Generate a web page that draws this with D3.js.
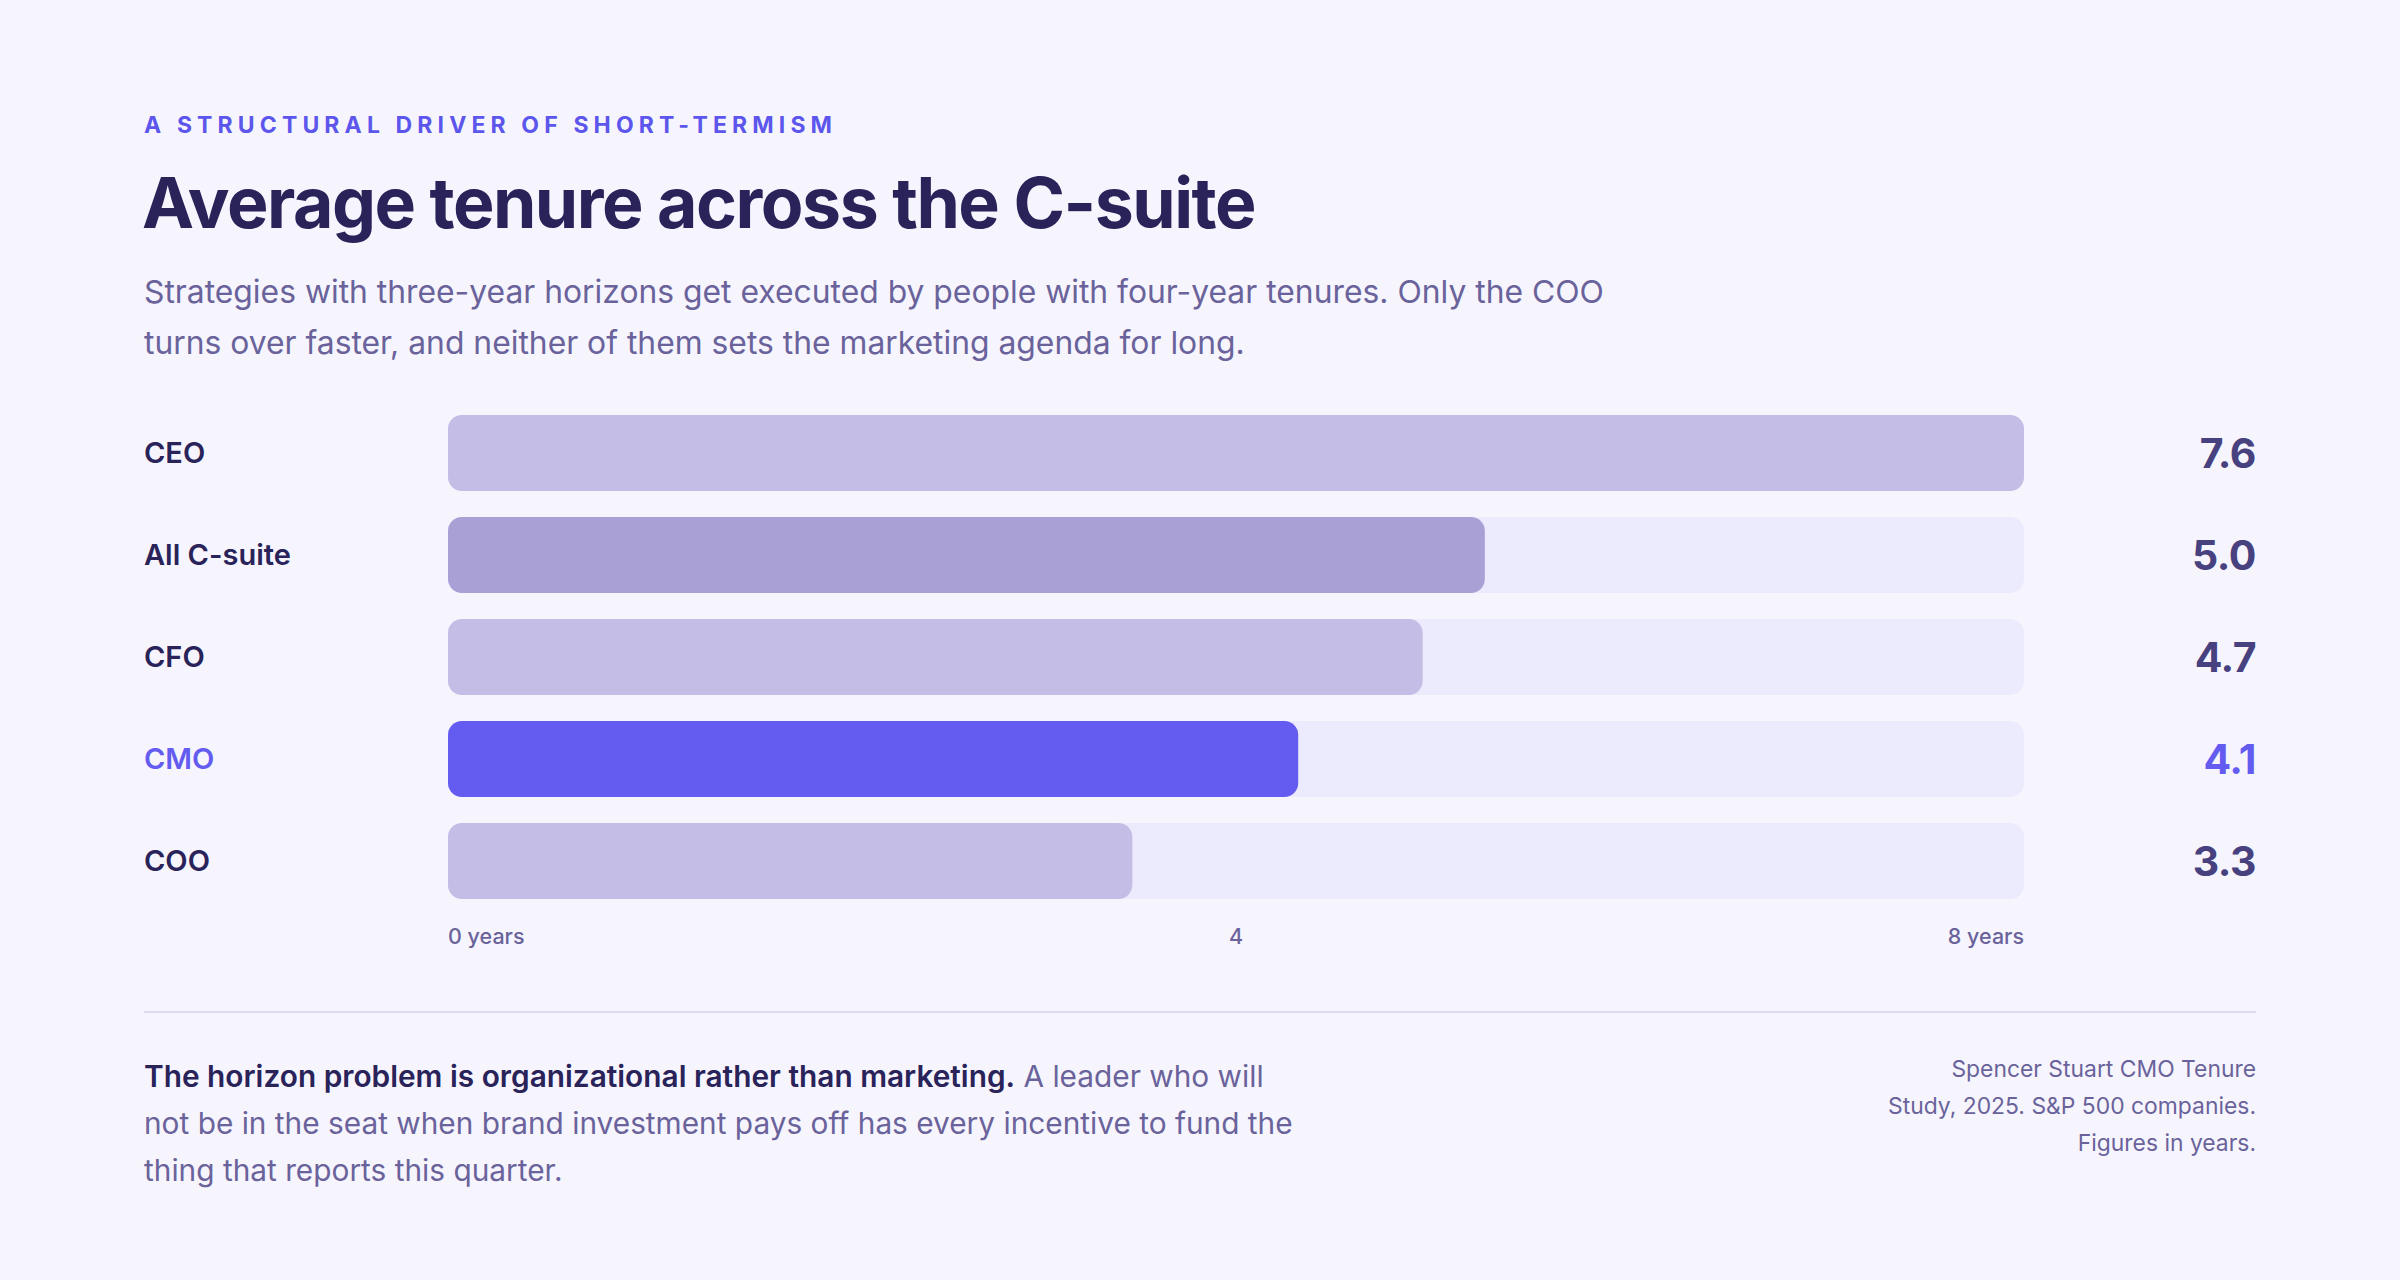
<!DOCTYPE html>
<html>
<head>
<meta charset="utf-8">
<script src="https://cdn.jsdelivr.net/npm/d3@7"></script>
<style>
  html, body { margin: 0; padding: 0; background: #f6f5fe; }
  svg { display: block; font-family: Inter, "Noto Sans", sans-serif; }
</style>
</head>
<body>
<svg id="chart" width="2400" height="1280"></svg>
<script>
// ---- data ----
const categories = ["CEO", "All C-suite", "CFO", "CMO", "COO"];
const tenureYears = [7.6, 5.0, 4.7, 4.1, 3.3];
const tickValues = [0, 4, 8];
const tickLabels = ["0 years", "4", "8 years"];

const eyebrow = "A STRUCTURAL DRIVER OF SHORT-TERMISM";
const title = "Average tenure across the C-suite";
const subtitleLines = [
  "Strategies with three-year horizons get executed by people with four-year tenures. Only the COO",
  "turns over faster, and neither of them sets the marketing agenda for long."
];
const footLead = "The horizon problem is organizational rather than marketing.";
const footLines = [
  " A leader who will",
  "not be in the seat when brand investment pays off has every incentive to fund the",
  "thing that reports this quarter."
];
const sourceLines = [
  "Spencer Stuart CMO Tenure",
  "Study, 2025. S&P 500 companies.",
  "Figures in years."
];

const HIGHLIGHT = "CMO";
const AVERAGE = "All C-suite";

// ---- layout ----
const W = 2400, H = 1280;
const LEFT = 144, RIGHT = 2256;
const BAR_X0 = 448, BAR_X1 = 2024;

const svg = d3.select("#chart");
svg.append("rect").attr("width", W).attr("height", H).attr("fill", "#f6f5fe");

// shrink/grow a text's font size so it spans a given width
function fitWidth(sel, target) {
  const fs = parseFloat(sel.attr("font-size"));
  const w = sel.node().getComputedTextLength();
  sel.attr("font-size", (fs * target / w).toFixed(2));
}

// header
const eb = svg.append("text")
  .attr("x", LEFT).attr("y", 133)
  .attr("font-size", 23).attr("font-weight", 700)
  .attr("fill", "#5d56ec")
  .text(eyebrow);
// spread letters out to the reference width
(function () {
  const n = eyebrow.length;
  const w = eb.node().getComputedTextLength();
  eb.attr("letter-spacing", ((688 - w) / (n - 1)).toFixed(2));
})();

const t = svg.append("text")
  .attr("x", LEFT - 2).attr("y", 228)
  .attr("font-size", 76).attr("font-weight", 700)
  .attr("letter-spacing", -1.5)
  .attr("fill", "#29235a")
  .text(title);
fitWidth(t, 1117);

const sub = svg.selectAll("text.sub")
  .data(subtitleLines)
  .join("text")
  .attr("class", "sub")
  .attr("x", LEFT).attr("y", (d, i) => 303 + i * 51)
  .attr("font-size", 30)
  .attr("fill", "#6a639b")
  .text(d => d);
fitWidth(d3.select(sub.nodes()[0]), 1460);
d3.select(sub.nodes()[1]).attr("font-size", d3.select(sub.nodes()[0]).attr("font-size"));

// ---- bars ----
const x = d3.scaleLinear().domain([0, d3.max(tenureYears)]).range([BAR_X0, BAR_X1]);
const xTicks = d3.scaleLinear().domain([0, 8]).range([BAR_X0, BAR_X1]);
const y = d3.scaleBand().domain(categories).range([415, 899])
  .paddingInner(26 / 102).paddingOuter(0);

const rows = categories.map((c, i) => ({ name: c, value: tenureYears[i] }));

const barColor = d => d.name === HIGHLIGHT ? "#645bf0"
  : d.name === AVERAGE ? "#a9a0d6" : "#c4bde6";

const g = svg.append("g");

g.selectAll("rect.track")
  .data(rows)
  .join("rect")
  .attr("class", "track")
  .attr("x", x(0)).attr("y", d => y(d.name))
  .attr("width", x.range()[1] - x(0))
  .attr("height", y.bandwidth())
  .attr("rx", 14)
  .attr("fill", "#eceafd");

g.selectAll("rect.bar")
  .data(rows)
  .join("rect")
  .attr("class", "bar")
  .attr("x", x(0)).attr("y", d => y(d.name))
  .attr("width", d => x(d.value) - x(0))
  .attr("height", y.bandwidth())
  .attr("rx", 14)
  .attr("fill", barColor);

g.selectAll("text.cat")
  .data(rows)
  .join("text")
  .attr("class", "cat")
  .attr("x", LEFT).attr("y", d => y(d.name) + y.bandwidth() / 2)
  .attr("dy", "0.36em")
  .attr("font-size", 29).attr("font-weight", 600)
  .attr("fill", d => d.name === HIGHLIGHT ? "#645bf0" : "#29235a")
  .text(d => d.name);

g.selectAll("text.val")
  .data(rows)
  .join("text")
  .attr("class", "val")
  .attr("x", RIGHT).attr("y", d => y(d.name) + y.bandwidth() / 2)
  .attr("dy", "0.36em")
  .attr("text-anchor", "end")
  .attr("font-size", 41).attr("font-weight", 700)
  .attr("letter-spacing", -0.5)
  .attr("fill", d => d.name === HIGHLIGHT ? "#645bf0" : "#48417f")
  .text(d => d3.format(".1f")(d.value));

// axis labels
g.selectAll("text.tick")
  .data(tickValues)
  .join("text")
  .attr("class", "tick")
  .attr("x", d => xTicks(d)).attr("y", 944)
  .attr("text-anchor", (d, i) => i === 0 ? "start" : i === tickValues.length - 1 ? "end" : "middle")
  .attr("font-size", 21.5).attr("font-weight", 500)
  .attr("fill", "#6a639b")
  .text((d, i) => tickLabels[i]);

// divider
svg.append("line")
  .attr("x1", LEFT).attr("x2", RIGHT)
  .attr("y1", 1012).attr("y2", 1012)
  .attr("stroke", "#dddbef").attr("stroke-width", 2);

// ---- footer ----
const foot = svg.append("g");
const FOOT_FS = 27;
const f0 = foot.append("text")
  .attr("x", LEFT).attr("y", 1087)
  .attr("font-size", FOOT_FS)
  .attr("fill", "#6a639b");
f0.append("tspan").attr("font-weight", 600).attr("fill", "#29235a").text(footLead);
f0.append("tspan").text(footLines[0]);

foot.selectAll("text.fl")
  .data(footLines.slice(1))
  .join("text")
  .attr("class", "fl")
  .attr("x", LEFT).attr("y", (d, i) => 1134 + i * 47)
  .attr("font-size", FOOT_FS)
  .attr("fill", "#6a639b")
  .text(d => d);

const fl1 = d3.select(foot.selectAll("text.fl").nodes()[0]);
fitWidth(fl1, 1149);
const ffs = fl1.attr("font-size");
foot.selectAll("text").attr("font-size", ffs);

const src = svg.selectAll("text.src")
  .data(sourceLines)
  .join("text")
  .attr("class", "src")
  .attr("x", RIGHT).attr("y", (d, i) => 1077 + i * 37)
  .attr("text-anchor", "end")
  .attr("font-size", 22)
  .attr("fill", "#6a639b")
  .text(d => d);
fitWidth(d3.select(src.nodes()[1]), 368);
svg.selectAll("text.src").attr("font-size", d3.select(src.nodes()[1]).attr("font-size"));
</script>
</body>
</html>
